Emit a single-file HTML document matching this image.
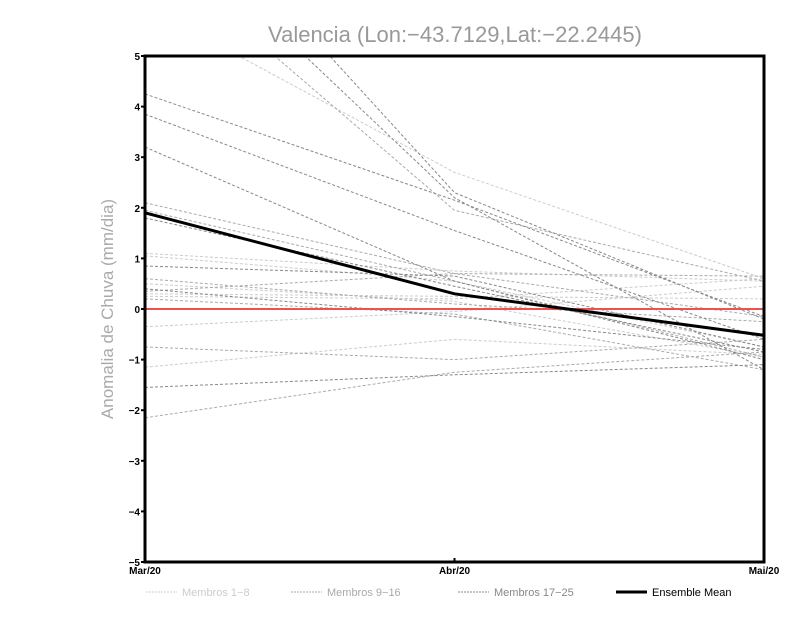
<!DOCTYPE html>
<html><head><meta charset="utf-8"><style>
body{margin:0;background:#fff;width:800px;height:618px;overflow:hidden;font-family:"Liberation Sans",sans-serif}
</style></head><body>
<svg id="c" width="800" height="618"></svg>
<script>
const categories=["Mar/20","Abr/20","Mai/20"];
const yTicks=[-5,-4,-3,-2,-1,0,1,2,3,4,5];
const group1=[[1.1,0.75,0.55],[0.25,0.2,0.6],[-0.35,-0.05,0.45],[-1.15,-0.6,-0.9],[6.0,2.7,0.6],[0.3,0.25,0.2],[1.05,0.55,-0.75],[0.5,0.15,-0.95]];
const group2=[[7.2,1.95,0.55],[2.1,0.7,-0.15],[0.6,0.1,-0.25],[0.35,0.7,0.65],[-0.75,-1.0,-0.6],[-2.15,-1.25,-0.85],[1.95,0.55,-0.95],[0.2,-0.1,-1.2]];
const group3=[[9,2.3,-0.2],[8,2.2,-1.2],[4.25,2.15,-0.15],[3.85,1.55,-0.6],[3.2,0.55,-1.0],[1.8,0.45,-0.85],[0.85,0.65,-0.75],[0.4,-0.15,-0.8],[-1.55,-1.3,-1.1]];
const ensembleMean=[1.9,0.3,-0.52];
const NS="http://www.w3.org/2000/svg",svg=document.getElementById('c');
const x0=145,x1=764,yTop=56,yBot=562;
const xs=i=>x0+i*(x1-x0)/(categories.length-1);
const ys=v=>yBot-(v+5)*(yBot-yTop)/10;
function mk(t,a,p){const e=document.createElementNS(NS,t);for(const k in a)e.setAttribute(k,a[k]);(p||svg).appendChild(e);return e;}
const defs=mk('clipPath',{id:'cl'});mk('rect',{x:x0,y:yTop,width:x1-x0,height:yBot-yTop},defs);
const gl=mk('g',{'clip-path':'url(#cl)'});
function draw(g,col,name){g.forEach((s,k)=>{const p=mk('polyline',{points:s.map((v,i)=>xs(i)+','+ys(v)).join(' '),fill:'none',stroke:col,'stroke-width':1,'stroke-dasharray':'3,2'},gl);

});}
draw(group1,'#cccccc','member-light');draw(group2,'#aaaaaa','member-mid');draw(group3,'#888888','member-dark');
const z=mk('line',{x1:x0,x2:x1,y1:ys(0),y2:ys(0),stroke:'#f05050','stroke-width':2},gl);


const m=mk('polyline',{points:ensembleMean.map((v,i)=>xs(i)+','+ys(v)).join(' '),fill:'none',stroke:'#000','stroke-width':3},gl);


mk('rect',{x:x0,y:yTop,width:x1-x0,height:yBot-yTop,fill:'none',stroke:'#000','stroke-width':3});
yTicks.forEach(v=>{mk('line',{x1:x0-4,x2:x0,y1:ys(v),y2:ys(v),stroke:'#000','stroke-width':2});
const t=mk('text',{x:x0-5,y:ys(v)+4,'text-anchor':'end','font-size':10,'font-weight':'bold'});t.textContent=v<0?'−'+(-v):v;

});
categories.forEach((c,i)=>{mk('line',{x1:xs(i),x2:xs(i),y1:yBot-4,y2:yBot,stroke:'#000','stroke-width':2});
const t=mk('text',{x:xs(i),y:yBot+12,'text-anchor':'middle','font-size':10,'font-weight':'bold'});t.textContent=c;

});
const ti=mk('text',{x:455,y:42,'text-anchor':'middle','font-size':22,fill:'#999'});ti.textContent='Valencia (Lon:−43.7129,Lat:−22.2445)';


const yl=mk('text',{x:113,y:309,'text-anchor':'middle','font-size':17,fill:'#aaa',transform:'rotate(-90 113 309)'});yl.textContent='Anomalia de Chuva (mm/dia)';


const leg=[['Membros 1−8','#cccccc',146,1],['Membros 9−16','#aaaaaa',291,1],['Membros 17−25','#888888',458,1],['Ensemble Mean','#000',616,3]];
leg.forEach(l=>{mk('line',{x1:l[2],x2:l[2]+31,y1:592,y2:592,stroke:l[1],'stroke-width':l[3],'stroke-dasharray':l[3]>1?'none':'2,1'});
const t=mk('text',{x:l[2]+36,y:596,'font-size':11,fill:l[3]>1?'#000':l[1]});t.textContent=l[0];

});
</script>
</body></html>
